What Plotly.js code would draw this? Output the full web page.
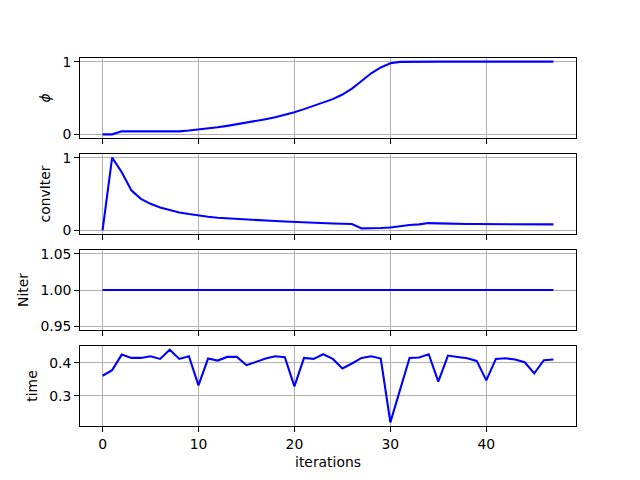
<!DOCTYPE html>
<html>
<head>
<meta charset="utf-8">
<script src="https://cdn.plot.ly/plotly-3.0.1.min.js"></script>
<style>html,body{margin:0;padding:0;background:#fff;}#chart{width:640px;height:480px;}</style>
</head>
<body>
<div id="chart"></div>
<script>
const iterations = Array.from({length: 48}, (_, i) => i);

const phi = [0, 0, 0.041, 0.041, 0.041, 0.041, 0.041, 0.041, 0.041, 0.052,
  0.065, 0.08, 0.097, 0.117, 0.138, 0.16, 0.184, 0.209, 0.235, 0.266,
  0.305, 0.347, 0.39, 0.436, 0.484, 0.548, 0.63, 0.733, 0.84, 0.92,
  0.977, 0.997, 1.0, 1.0, 1.0, 1.0, 1.0, 1.0, 1.0, 1.0,
  1.0, 1.0, 1.0, 1.0, 1.0, 1.0, 1.0, 1.0];

const convIter = [0, 1.0, 0.80, 0.55, 0.434, 0.365, 0.315, 0.28, 0.247, 0.224,
  0.2, 0.186, 0.173, 0.164, 0.155, 0.147, 0.14, 0.134, 0.128, 0.121,
  0.114, 0.109, 0.104, 0.099, 0.095, 0.091, 0.087, 0.027, 0.027, 0.032,
  0.04, 0.06, 0.073, 0.082, 0.1, 0.096, 0.091, 0.087, 0.087, 0.087,
  0.087, 0.087, 0.086, 0.086, 0.085, 0.084, 0.083, 0.082];

const niter = new Array(48).fill(1.0);

const time = [0.361, 0.378, 0.425, 0.415, 0.415, 0.42, 0.412, 0.44, 0.412, 0.42,
  0.332, 0.413, 0.407, 0.418, 0.418, 0.393, 0.403, 0.413, 0.42, 0.417,
  0.329, 0.415, 0.412, 0.426, 0.412, 0.383, 0.398, 0.415, 0.42, 0.413,
  0.22, 0.318, 0.415, 0.416, 0.426, 0.343, 0.422, 0.418, 0.414, 0.406,
  0.347, 0.412, 0.414, 0.41, 0.402, 0.368, 0.408, 0.41];

const series = [phi, convIter, niter, time];
const ylabels = ['<i>ϕ</i>', 'convIter', 'Niter', 'time'];
const ytickvals = [[0, 1], [0, 1], [0.95, 1.0, 1.05], [0.3, 0.4]];
const yticktext = [['0', '1'], ['0', '1'], ['0.95', '1.00', '1.05'], ['0.3', '0.4']];
const yranges = [[-0.05, 1.05], [-0.05, 1.05], [0.945, 1.055], [0.209, 0.451]];
const xtickvals = [0, 10, 20, 30, 40];

const font = {family: 'DejaVu Sans', size: 13.9, color: '#000'};
const plotH = 368;
const h = 80 / plotH, gap = 16 / plotH;

const traces = [];
const layout = {
  width: 640, height: 480,
  margin: {l: 80, r: 64, t: 58, b: 54, pad: 0},
  paper_bgcolor: '#fff', plot_bgcolor: '#fff',
  showlegend: false,
  font: font
};

series.forEach((ys, i) => {
  const idx = i + 1;
  const xa = idx === 1 ? 'x' : 'x' + idx;
  const ya = idx === 1 ? 'y' : 'y' + idx;
  traces.push({
    x: iterations, y: ys, type: 'scatter', mode: 'lines',
    line: {color: '#0000ff', width: 2.08},
    xaxis: xa, yaxis: ya, hoverinfo: 'skip'
  });
  const top = 1 - i * (h + gap);
  const dom = [Math.max(0, top - h), Math.min(1, top)];
  const xkey = idx === 1 ? 'xaxis' : 'xaxis' + idx;
  const ykey = idx === 1 ? 'yaxis' : 'yaxis' + idx;
  layout[xkey] = {
    domain: [0, 1], anchor: ya,
    range: [-2.35, 49.35],
    tickvals: xtickvals, ticktext: xtickvals.map(String),
    showticklabels: i === 3,
    ticks: 'outside', ticklen: 4.9, tickwidth: 1, tickcolor: '#000',
    showgrid: true, gridcolor: '#b0b0b0', gridwidth: 1,
    zeroline: false,
    showline: true, linecolor: '#000', linewidth: 1, mirror: true,
    tickfont: font,
    title: i === 3 ? {text: 'iterations', font: font, standoff: 6} : {text: ''}
  };
  layout[ykey] = {
    domain: dom, anchor: xa,
    range: yranges[i],
    tickvals: ytickvals[i], ticktext: yticktext[i],
    ticks: 'outside', ticklen: 4.9, tickwidth: 1, tickcolor: '#000',
    showgrid: true, gridcolor: '#b0b0b0', gridwidth: 1,
    zeroline: false,
    showline: true, linecolor: '#000', linewidth: 1, mirror: true,
    tickfont: font,
    title: {text: ylabels[i], font: font, standoff: 8}
  };
});

Plotly.newPlot('chart', traces, layout, {staticPlot: true, displayModeBar: false});
</script>
</body>
</html>
